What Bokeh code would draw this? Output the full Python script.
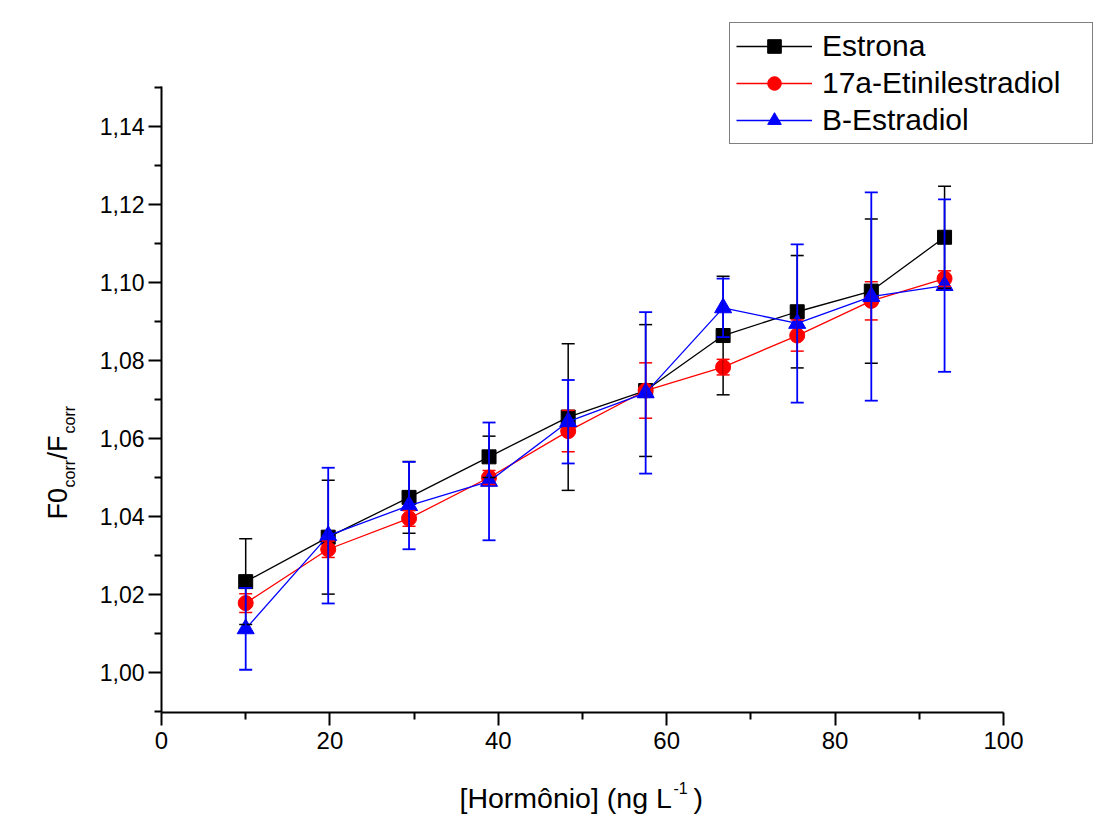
import math
from bokeh.plotting import figure
from bokeh.models import (ColumnDataSource, Whisker, TeeHead, FixedTicker,
                          CustomJSTickFormatter, Legend, LegendItem, Label, Range1d)
from bokeh.embed import file_html
from bokeh.resources import INLINE

# ---- data ----
conc = [10.0, 19.8, 29.4, 38.9, 48.3, 57.5, 66.7, 75.5, 84.3, 93.0]

estrona = [1.0233, 1.0347, 1.0449, 1.0553, 1.0655, 1.0723, 1.0864, 1.0925, 1.0978, 1.1116]
estrona_err = [0.0110, 0.0146, 0.0092, 0.0053, 0.0188, 0.0169, 0.0152, 0.0144, 0.0185, 0.0131]

etinil = [1.0178, 1.0316, 1.0395, 1.0500, 1.0619, 1.0723, 1.0783, 1.0864, 1.0953, 1.1010]
etinil_err = [0.0024, 0.0021, 0.0020, 0.0018, 0.0053, 0.0071, 0.0020, 0.0040, 0.0049, 0.0020]

estradiol = [1.0112, 1.0351, 1.0428, 1.0490, 1.0643, 1.0717, 1.0935, 1.0895, 1.0964, 1.0992]
estradiol_err = [0.0105, 0.0174, 0.0112, 0.0151, 0.0107, 0.0207, 0.0075, 0.0203, 0.0267, 0.0221]

series_names = ["Estrona", "17a-Etinilestradiol", "B-Estradiol"]

x_ticks = [0, 20, 40, 60, 80, 100]
x_minor = [10, 30, 50, 70, 90]
y_ticks = [1.00, 1.02, 1.04, 1.06, 1.08, 1.10, 1.12, 1.14]
y_minor = [0.99, 1.01, 1.03, 1.05, 1.07, 1.09, 1.11, 1.13, 1.15]

# ---- layout: the frame covers the whole canvas, axes sit at fixed locations ----
W, H = 1099, 826
AX_L, AX_R, AX_T, AX_B = 161, 1003, 86, 712      # axis box in pixels
XA, XB = 0.0, 100.0                                # x axis extent
YPX0, YPX1 = 672, 126                              # pixel rows of 1.00 and 1.14
kx = (AX_R - AX_L) / (XB - XA)
ky = (YPX0 - YPX1) / 0.14

def dx(px):
    return XA + (px - AX_L) / kx

def dy(py):
    return 1.0 + (YPX0 - py) / ky

FONT = "Liberation Sans"

p = figure(width=W, height=H, x_range=Range1d(dx(0), dx(W)), y_range=Range1d(dy(H), dy(0)),
           output_backend="svg", toolbar_location=None, min_border=0)
p.title.visible = False
p.outline_line_color = None
p.xgrid.visible = False
p.ygrid.visible = False
p.background_fill_color = "white"
p.border_fill_color = "white"

p.xaxis.fixed_location = dy(AX_B)
p.yaxis.fixed_location = XA
p.xaxis.bounds = (XA, XB)
p.yaxis.bounds = (dy(AX_B), dy(AX_T))

for ax in (p.xaxis[0], p.yaxis[0]):
    ax.axis_line_width = 2
    ax.axis_line_color = "black"
    ax.major_tick_line_width = 2
    ax.minor_tick_line_width = 2
    ax.major_tick_line_color = "black"
    ax.minor_tick_line_color = "black"
    ax.major_tick_in = 0
    ax.minor_tick_in = 0
    ax.major_tick_out = 13
    ax.minor_tick_out = 7
    ax.major_label_text_font = FONT
    ax.major_label_text_color = "black"

p.xaxis.major_label_standoff = 6
p.yaxis.major_label_standoff = 4
p.xaxis.ticker = FixedTicker(ticks=x_ticks, minor_ticks=x_minor)
p.yaxis.ticker = FixedTicker(ticks=y_ticks, minor_ticks=y_minor)
p.xaxis.major_label_text_font_size = "24px"
p.yaxis.major_label_text_font_size = "23px"
p.yaxis.formatter = CustomJSTickFormatter(code="return tick.toFixed(2).replace('.', ',');")
p.xaxis.formatter = CustomJSTickFormatter(code="return tick.toFixed(0);")

styles = [
    (estrona, estrona_err, "#000000", "square", 14, 1.3, 1.5),
    (etinil, etinil_err, "#FF0000", "circle", 15, 1.3, 1.5),
    (estradiol, estradiol_err, "#0000FF", "triangle", 17, 1.3, 1.8),
]

items = []
for name, (ys, errs, color, marker, size, lw, ew) in zip(series_names, styles):
    src = ColumnDataSource(dict(x=conc, y=ys,
                                lo=[a - b for a, b in zip(ys, errs)],
                                hi=[a + b for a, b in zip(ys, errs)]))
    ln = p.line("x", "y", source=src, line_color=color, line_width=lw)
    wh = Whisker(base="x", lower="lo", upper="hi", source=src, line_color=color,
                 line_width=ew, level="glyph",
                 upper_head=TeeHead(size=13, line_color=color, line_width=ew),
                 lower_head=TeeHead(size=13, line_color=color, line_width=ew))
    p.add_layout(wh)
    sc = p.scatter("x", "y", source=src, marker=marker, size=size,
                   fill_color=color, line_color=color)
    items.append(LegendItem(label=name, renderers=[ln, sc]))

legend = Legend(items=items, location=(729, H - 144),
                label_text_font=FONT, label_text_font_size="30px",
                label_text_color="black",
                glyph_width=76, glyph_height=34, label_height=34,
                spacing=3, padding=6, label_standoff=10, label_width=264,
                border_line_color="black", border_line_width=1.5,
                background_fill_color="white", background_fill_alpha=1.0, margin=0)
p.add_layout(legend)

# ---- axis titles with sub/superscripts ----
def add_label(text, px, py, size, angle=0.0):
    p.add_layout(Label(x=dx(px), y=dy(py), text=text, angle=angle,
                       text_font=FONT, text_font_size=size, text_color="black",
                       text_align="left", text_baseline="alphabetic"))

rot = math.pi / 2
add_label("F0", 57, 519, "27px", rot)
add_label("corr", 69, 487, "16px", rot)
add_label("/F", 57, 459, "27px", rot)
add_label("corr", 69, 433, "16px", rot)

add_label("[Hormônio] (ng L", 459, 797, "28.5px")
add_label("-1", 673, 787, "16px")
add_label(")", 693, 797, "28.5px")

open("out.html", "w").write(file_html(p, INLINE))
